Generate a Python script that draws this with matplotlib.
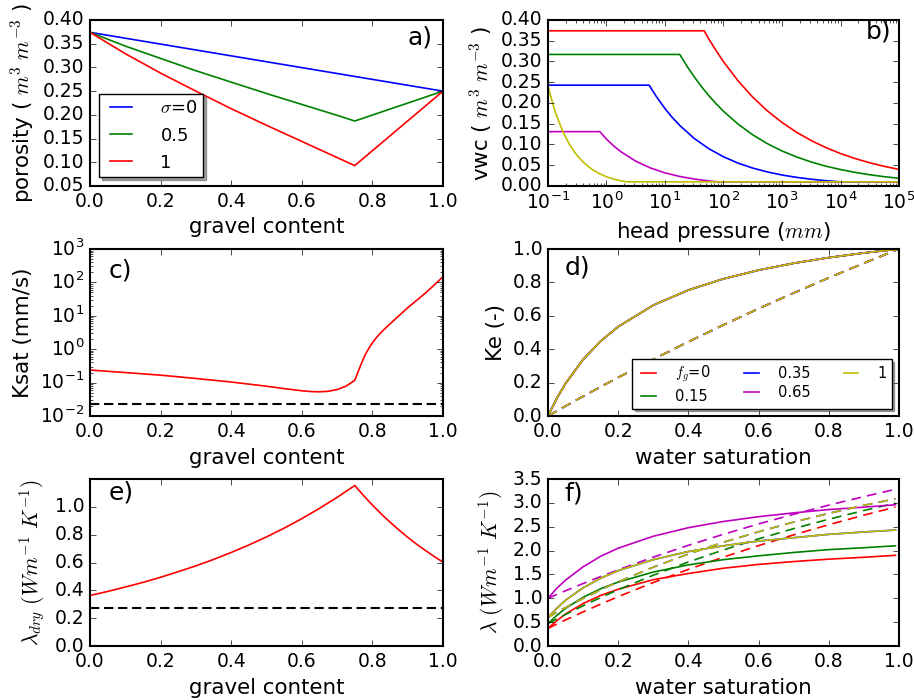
import matplotlib
matplotlib.use('Agg')
import matplotlib.pyplot as plt

# porosity vs gravel content for three mixing parameters
gravel_a = [0.0, 0.1, 0.2, 0.3, 0.4, 0.5, 0.6, 0.7, 0.75, 1.0]
por_sigma0 = [0.374, 0.3616, 0.3492, 0.3368, 0.3244, 0.312, 0.2996, 0.2872, 0.281, 0.25]
por_sigma05 = [0.374, 0.345, 0.319, 0.293, 0.269, 0.245, 0.222, 0.199, 0.187, 0.25]
por_sigma1 = [0.374, 0.329, 0.288, 0.250, 0.213, 0.178, 0.144, 0.110, 0.093, 0.25]

# retention curves, head pressure (mm) vs volumetric water content
psi_fg0 = [0.1, 46.7, 56.2, 75, 100, 178, 316, 562, 1000, 1780, 3160, 5620,
           1e4, 1.78e4, 3.16e4, 5.62e4, 1e5]
vwc_fg0 = [0.374, 0.374, 0.354, 0.326, 0.2995, 0.2532, 0.2141, 0.1810, 0.1531,
           0.1294, 0.1094, 0.0925, 0.0782, 0.0661, 0.0559, 0.0473, 0.0400]
psi_fg015 = [0.1, 17.9, 23.7, 31.6, 42.2, 56.2, 75, 100, 178, 316, 562, 1000,
             1780, 3160, 5620, 1e4, 1.78e4, 3.16e4, 5.62e4, 1e5]
vwc_fg015 = [0.317, 0.317, 0.289, 0.263, 0.239, 0.2176, 0.198, 0.180, 0.1490,
             0.1233, 0.1020, 0.0844, 0.0699, 0.0578, 0.0478, 0.0396, 0.0328,
             0.0271, 0.0224, 0.0186]
psi_fg035 = [0.1, 5.35, 7.08, 10, 13.3, 17.8, 31.6, 56.2, 100, 178, 316, 562,
             1000, 1780, 3160, 5620, 1e4, 1e5]
vwc_fg035 = [0.243, 0.243, 0.216, 0.1865, 0.1652, 0.1462, 0.1146, 0.0898,
             0.0704, 0.0551, 0.0432, 0.0339, 0.0265, 0.0208, 0.0163, 0.0128,
             0.0100, 0.0100]
psi_fg065 = [0.1, 0.766, 1.0, 1.33, 1.78, 3.16, 5.62, 10, 17.8, 31.6, 56.2, 80.4, 1e5]
vwc_fg065 = [0.131, 0.131, 0.1130, 0.0964, 0.0822, 0.0598, 0.0435, 0.0316,
             0.0230, 0.0168, 0.0122, 0.0100, 0.0100]
psi_fg1 = [0.1, 0.1334, 0.178, 0.237, 0.316, 0.422, 0.562, 0.75, 1.0, 1.33,
           1.78, 2.2, 1e5]
vwc_fg1 = [0.239, 0.1777, 0.1321, 0.0982, 0.0730, 0.0543, 0.0404, 0.0300,
           0.0223, 0.0166, 0.0123, 0.0100, 0.0100]

# saturated hydraulic conductivity
gravel_c = [0.0, 0.1, 0.2, 0.3, 0.4, 0.5, 0.55, 0.6, 0.625, 0.65, 0.675, 0.7,
            0.725, 0.75, 0.76, 0.77, 0.78, 0.79, 0.80, 0.81, 0.82, 0.83, 0.84,
            0.85, 0.875, 0.9, 0.925, 0.95, 0.975, 1.0]
ksat = [0.238, 0.200, 0.167, 0.133, 0.104, 0.078, 0.066, 0.057, 0.054, 0.053,
        0.055, 0.062, 0.078, 0.117, 0.219, 0.398, 0.692, 1.07, 1.55, 2.14,
        2.82, 3.63, 4.57, 5.75, 10.0, 17.4, 28.8, 47.9, 83.2, 148.0]
ksat_fine = 0.0235

# Kersten number vs saturation
sat_d = [0.0, 0.025, 0.05, 0.1, 0.15, 0.2, 0.3, 0.4, 0.5, 0.6, 0.7, 0.8, 0.9, 1.0]
ke_coarse = [0.0, 0.1055, 0.1949, 0.3382, 0.4481, 0.5349, 0.6635, 0.7541,
             0.8214, 0.8734, 0.9148, 0.9485, 0.9764, 1.0]
ke_fine = [0.0, 0.0299, 0.0594, 0.1176, 0.1748, 0.2308, 0.3396, 0.4444,
           0.5455, 0.6429, 0.7368, 0.8276, 0.9153, 1.0]

# dry thermal conductivity
gravel_e = [0.0, 0.05, 0.1, 0.15, 0.2, 0.25, 0.3, 0.35, 0.4, 0.45, 0.5, 0.55,
            0.6, 0.65, 0.7, 0.75, 0.775, 0.8, 0.825, 0.85, 0.875, 0.9, 0.925,
            0.95, 0.975, 1.0]
lam_dry = [0.363, 0.392, 0.424, 0.457, 0.494, 0.534, 0.576, 0.622, 0.672,
           0.726, 0.784, 0.847, 0.915, 0.989, 1.068, 1.153, 1.081, 1.013,
           0.949, 0.890, 0.834, 0.781, 0.732, 0.687, 0.643, 0.603]
lam_dry_fine = 0.27

# thermal conductivity vs saturation (solid / dashed)
sat_f = [0.0, 0.025, 0.05, 0.1, 0.15, 0.2, 0.3, 0.4, 0.5, 0.6, 0.7, 0.8, 0.9, 0.99]
lam_fg0 = [0.37, 0.53, 0.67, 0.89, 1.06, 1.19, 1.39, 1.52, 1.63, 1.71, 1.77, 1.82, 1.86, 1.90]
lam_fg015 = [0.47, 0.64, 0.79, 1.02, 1.20, 1.34, 1.55, 1.70, 1.81, 1.89, 1.96, 2.02, 2.06, 2.10]
lam_fg035 = [0.60, 0.79, 0.96, 1.22, 1.42, 1.58, 1.81, 1.98, 2.10, 2.20, 2.27, 2.34, 2.39, 2.43]
lam_fg065 = [1.00, 1.21, 1.38, 1.66, 1.88, 2.05, 2.30, 2.48, 2.61, 2.71, 2.79, 2.86, 2.91, 2.96]
lam_fg1 = [0.60, 0.79, 0.96, 1.22, 1.42, 1.58, 1.81, 1.98, 2.10, 2.20, 2.27, 2.34, 2.39, 2.43]
lamd_fg0 = [0.37, 0.459, 0.546, 0.715, 0.877, 1.034, 1.330, 1.606, 1.863, 2.104, 2.330, 2.542, 2.742, 2.912]
lamd_fg015 = [0.47, 0.567, 0.662, 0.843, 1.016, 1.179, 1.484, 1.761, 2.014, 2.246, 2.460, 2.657, 2.840, 2.994]
lamd_fg035 = [0.60, 0.705, 0.805, 0.997, 1.177, 1.345, 1.653, 1.928, 2.175, 2.395, 2.598, 2.780, 2.948, 3.085]
lamd_fg065 = [1.00, 1.080, 1.158, 1.310, 1.456, 1.596, 1.863, 2.110, 2.342, 2.558, 2.761, 2.952, 3.131, 3.284]
lamd_fg1 = [0.60, 0.705, 0.805, 0.997, 1.177, 1.345, 1.653, 1.928, 2.175, 2.395, 2.598, 2.780, 2.948, 3.085]

fg_labels = ['$f_g$=0', '0.15', '0.35', '0.65', '1']
fg_colors = ['r', 'g', 'b', 'm', 'y']

plt.style.use('classic')
plt.rcParams['font.family'] = ['DejaVu Sans']
plt.rcParams['font.size'] = 13.5
plt.rcParams['axes.labelsize'] = 15.4
plt.rcParams['axes.linewidth'] = 1.5
plt.rcParams['mathtext.fontset'] = 'cm'

lw = 1.2
dash_c = (7, 4.5)
dash_k = (6.7, 3.4)

fig = plt.figure(figsize=(9.14, 7.0), dpi=100, facecolor='white')
left1, left2 = 0.09847, 0.59956
w1, w2 = 0.38621, 0.38403
ax_a = fig.add_axes([left1, 0.73429, w1, 0.23714])
ax_b = fig.add_axes([left2, 0.73429, w2, 0.23714])
ax_c = fig.add_axes([left1, 0.40571, w1, 0.23857])
ax_d = fig.add_axes([left2, 0.40571, w2, 0.23857])
ax_e = fig.add_axes([left1, 0.07714, w1, 0.23857])
ax_f = fig.add_axes([left2, 0.07714, w2, 0.23857])

# a) porosity
ax_a.plot(gravel_a, por_sigma0, 'b', lw=lw, label=r'$\sigma$=0')
ax_a.plot(gravel_a, por_sigma05, 'g', lw=lw, label='0.5')
ax_a.plot(gravel_a, por_sigma1, 'r', lw=lw, label='1')
ax_a.set_xlim(0, 1)
ax_a.set_ylim(0.05, 0.40)
ax_a.set_xlabel('gravel content')
ax_a.set_ylabel(r'porosity ( $m^3\ m^{-3}$ )')
ax_a.legend(loc='lower left', fontsize=13, handlelength=1.8,
            handletextpad=1.3, borderpad=0.3, labelspacing=0.5, shadow=True)
ax_a.text(0.97, 0.895, 'a)', transform=ax_a.transAxes, fontsize=18,
          ha='right', va='center')

# b) retention curves
ax_b.semilogx(psi_fg0, vwc_fg0, 'r', lw=lw)
ax_b.semilogx(psi_fg015, vwc_fg015, 'g', lw=lw)
ax_b.semilogx(psi_fg035, vwc_fg035, 'b', lw=lw)
ax_b.semilogx(psi_fg065, vwc_fg065, 'm', lw=lw)
ax_b.semilogx(psi_fg1, vwc_fg1, 'y', lw=lw)
ax_b.set_xlim(0.1, 1e5)
ax_b.set_ylim(0, 0.40)
ax_b.set_xlabel('head pressure ($mm$)')
ax_b.set_ylabel(r'vwc ( $m^3\ m^{-3}$ )')
ax_b.text(0.979, 0.928, 'b)', transform=ax_b.transAxes, fontsize=18,
          ha='right', va='center')

# c) saturated hydraulic conductivity
ax_c.semilogy(gravel_c, ksat, 'r', lw=lw)
ax_c.axhline(ksat_fine, color='k', lw=1.5, ls='--', dashes=dash_k)
ax_c.set_xlim(0, 1)
ax_c.set_ylim(1e-2, 1e3)
ax_c.set_xlabel('gravel content')
ax_c.set_ylabel('Ksat (mm/s)')
ax_c.text(0.054, 0.874, 'c)', transform=ax_c.transAxes, fontsize=18,
          ha='left', va='center')

# d) Kersten number
for col, lab in zip(fg_colors, fg_labels):
    ax_d.plot(sat_d, ke_coarse, color=col, lw=lw, label=lab)
    ax_d.plot(sat_d, ke_fine, color=col, lw=lw, ls='--', dashes=dash_c)
ax_d.set_xlim(0, 1)
ax_d.set_ylim(0, 1)
ax_d.set_xlabel('water saturation')
ax_d.set_ylabel('Ke (-)')
ax_d.legend(loc='lower right', ncol=3, fontsize=10.5, handlelength=1.6,
            handletextpad=1.0, columnspacing=2.0, labelspacing=0.3,
            borderpad=0.35, shadow=True)
ax_d.text(0.048, 0.892, 'd)', transform=ax_d.transAxes, fontsize=18,
          ha='left', va='center')

# e) dry thermal conductivity
ax_e.plot(gravel_e, lam_dry, 'r', lw=lw)
ax_e.axhline(lam_dry_fine, color='k', lw=1.5, ls='--', dashes=dash_k)
ax_e.set_xlim(0, 1)
ax_e.set_ylim(0, 1.2)
ax_e.set_yticks([0.0, 0.2, 0.4, 0.6, 0.8, 1.0])
ax_e.set_xlabel('gravel content')
ax_e.set_ylabel(r'$\lambda_{dry}\ (Wm^{-1}\ K^{-1})$')
ax_e.text(0.054, 0.922, 'e)', transform=ax_e.transAxes, fontsize=18,
          ha='left', va='center')

# f) thermal conductivity
lam_solid = [lam_fg0, lam_fg015, lam_fg035, lam_fg065, lam_fg1]
lam_dash = [lamd_fg0, lamd_fg015, lamd_fg035, lamd_fg065, lamd_fg1]
for col, ls_, ld_ in zip(fg_colors, lam_solid, lam_dash):
    ax_f.plot(sat_f, ls_, color=col, lw=lw)
    ax_f.plot(sat_f, ld_, color=col, lw=lw, ls='--', dashes=dash_c)
ax_f.set_xlim(0, 1)
ax_f.set_ylim(0, 3.5)
ax_f.set_xlabel('water saturation')
ax_f.set_ylabel(r'$\lambda\ (Wm^{-1}\ K^{-1})$')
ax_f.text(0.048, 0.916, 'f)', transform=ax_f.transAxes, fontsize=18,
          ha='left', va='center')

fig.savefig('out.png', dpi=100, facecolor='white')
